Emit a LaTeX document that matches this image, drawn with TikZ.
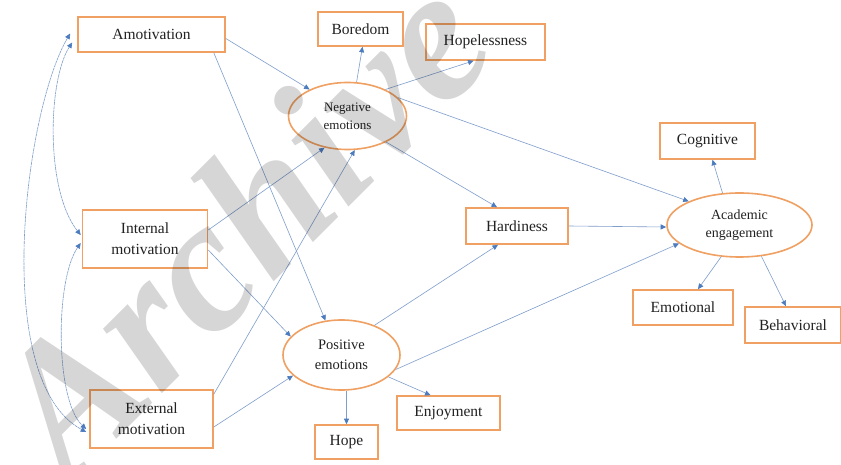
\documentclass[tikz,border=0pt]{standalone}
\usepackage{fontspec}
\setmainfont{Liberation Serif}
\usetikzlibrary{shapes.geometric,arrows.meta,calc}
\definecolor{boxor}{HTML}{EFA062}
\definecolor{lnblue}{HTML}{7F9ECB}
\definecolor{tipblue}{HTML}{4C7BBE}
\definecolor{txt}{HTML}{222222}
\begin{document}
\begin{tikzpicture}[x=1pt,y=-1pt,
  box/.style={draw=boxor, line width=1.6pt, fill=white, inner sep=0pt, text=txt,
    font=\fontsize{15.5}{21}\selectfont, align=center},
  oval/.style={ellipse, draw=boxor, line width=1.6pt, fill=white, inner sep=0pt, text=txt,
    align=center},
  tip/.tip={Triangle[length=5.5pt,width=5pt,color=tipblue]},
  link/.style={draw=lnblue, line width=0.6pt, -tip},
  twoway/.style={draw=lnblue, line width=0.6pt, dash pattern=on 3pt off 0.6pt, tip-tip}
]
\useasboundingbox[fill=white] (0,0) rectangle (841,465);

% boxes
\node[box, minimum width=147pt, minimum height=35pt] (amo) at (151.5,34.5) {Amotivation};
\node[box, minimum width=125pt, minimum height=58pt] (intm) at (145,239) {Internal\\motivation};
\node[box, minimum width=123pt, minimum height=58pt] (extm) at (151.5,419) {External\\motivation};
\node[box, minimum width=85pt, minimum height=34pt] (bor) at (360.5,29) {Boredom};
\node[box, minimum width=119pt, minimum height=36pt] (hop) at (485.5,42) {Hopelessness};
\node[box, minimum width=102pt, minimum height=36pt] (har) at (517,226) {Hardiness};
\node[box, minimum width=63pt, minimum height=34pt] (hope) at (346.5,442) {Hope};
\node[box, minimum width=103pt, minimum height=34pt] (enj) at (448.5,413) {Enjoyment};
\node[box, minimum width=95pt, minimum height=36pt] (cog) at (707.5,141) {Cognitive};
\node[box, minimum width=100pt, minimum height=35pt] (emo) at (683,307.5) {Emotional};
\node[box, minimum width=96pt, minimum height=36pt] (beh) at (793,325) {Behavioral};

% ellipses
\node[oval, minimum width=118pt, minimum height=67pt, font=\fontsize{13}{18}\selectfont] (neg) at (347.5,116) {Negative\\emotions};
\node[oval, minimum width=117pt, minimum height=70pt, font=\fontsize{14.5}{20}\selectfont] (pos) at (341.5,355) {Positive\\emotions};
\node[oval, minimum width=145pt, minimum height=64pt, font=\fontsize{14}{18}\selectfont] (aca) at (739.5,225) {Academic\\engagement};

% straight paths
\draw[link] ($(amo.east)+(0,4)$) -- (neg.145);
\draw[link] ($(amo.south east)+(-12,0)$) -- (pos.115);
\draw[link] ($(intm.east)+(0,-9)$) -- (neg.234);
\draw[link] ($(extm.north east)+(0,5)$) -- (neg.282);
\draw[link] ($(intm.east)+(0,11)$) -- (pos.160);
\draw[link] ($(extm.east)+(0,8)$) -- (pos.203);
\draw[link] (neg.75) -- ($(bor.south)+(2,0)$);
\draw[link] (neg.35) -- ($(hop.south)+(-12,0)$);
\draw[link] (neg.20) -- (aca.155);
\draw[link] (neg.326) -- ($(har.north)+(-20,0)$);
\draw[link] (pos.42) -- ($(har.south)+(-19,0)$);
\draw[link] (pos.345) -- (aca.197);
\draw[link] (har.east) -- ($(aca.west)+(0,2)$);
\draw[link] (hope.north |- pos.south) -- (hope.north);
\draw[link] (pos.335) -- ($(enj.north)+(-18,0)$);
\draw[link] (aca.118) -- ($(cog.south)+(5,0)$);
\draw[link] (aca.240) -- ($(emo.north)+(15,0)$);
\draw[link] (aca.305) -- ($(beh.north)+(-7,0)$);

% correlations
\draw[twoway] ($(amo.west)+(-7,-1)$) .. controls (25,110) and (-10,380) .. ($(extm.west)+(-3,13)$);
\draw[twoway] ($(amo.west)+(-5,8)$) .. controls (48,80) and (45,190) .. ($(intm.west)+(-1,-4)$);
\draw[twoway] ($(intm.west)+(-1,4)$) .. controls (55,280) and (55,400) .. ($(extm.west)+(-3,10)$);

% watermark
\node[rotate=45, font=\fontsize{190}{190}\selectfont\bfseries\itshape, text=black, text opacity=0.16] (wm) at (240,224) {Archive};
\end{tikzpicture}
\end{document}
